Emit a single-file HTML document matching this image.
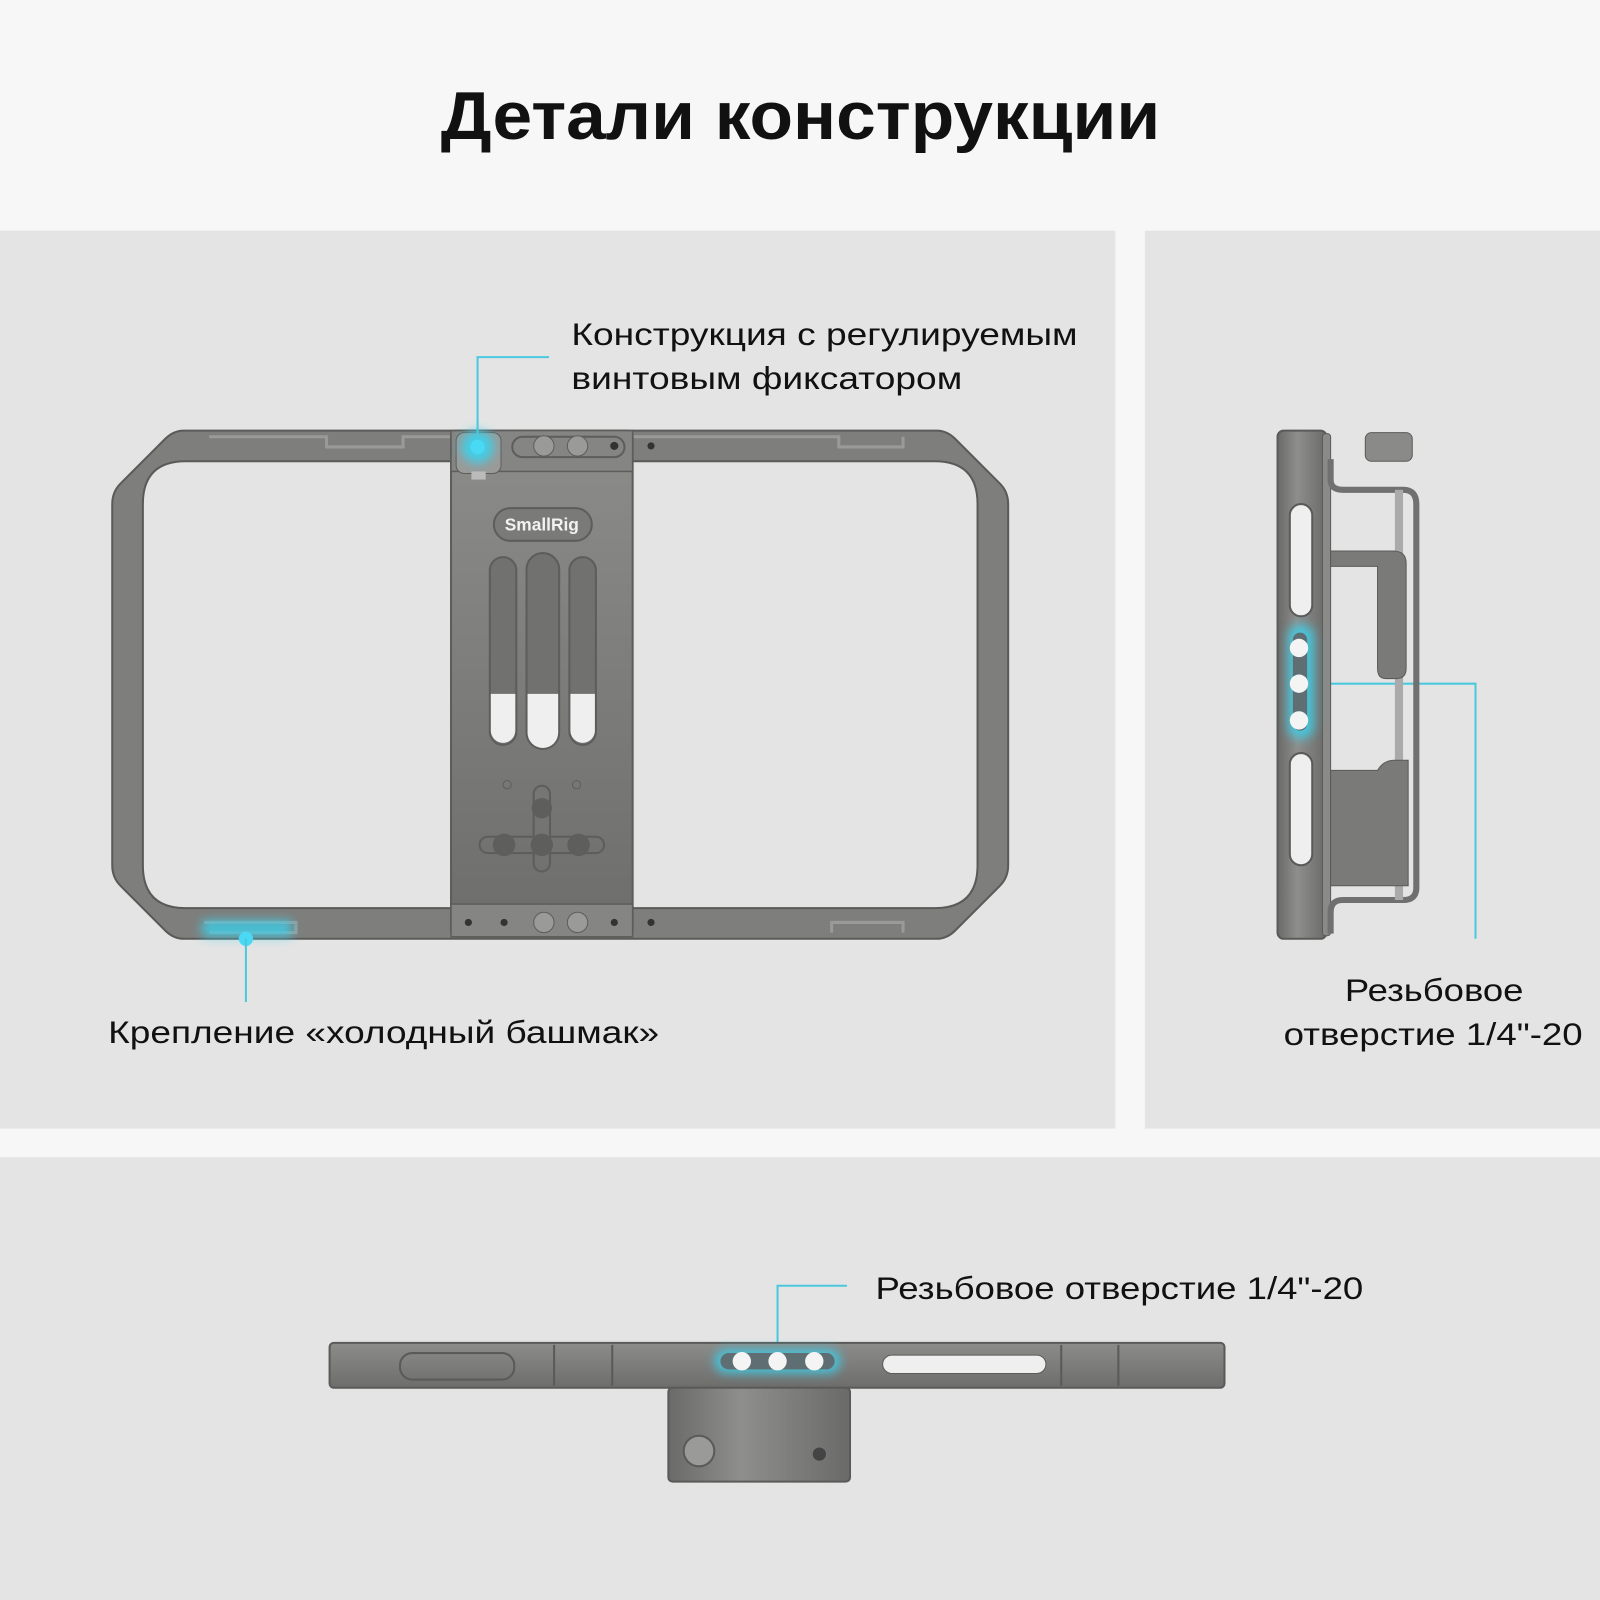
<!DOCTYPE html>
<html><head><meta charset="utf-8"><style>
html,body{margin:0;padding:0;background:#f7f7f7;}
svg{display:block;}
text{font-family:"Liberation Sans","DejaVu Sans",sans-serif;fill:#111;}
</style></head><body>
<svg width="1600" height="1600" viewBox="0 0 1568 1568" xmlns="http://www.w3.org/2000/svg">
<defs>
<linearGradient id="mg" x1="0" y1="0" x2="0" y2="1"><stop offset="0" stop-color="#8c8c8a"/><stop offset="1" stop-color="#6d6d6b"/></linearGradient>
<linearGradient id="mh" x1="0" y1="0" x2="1" y2="0"><stop offset="0" stop-color="#6a6a68"/><stop offset="0.4" stop-color="#8e8e8c"/><stop offset="1" stop-color="#6a6a68"/></linearGradient>
<filter id="gl" x="-1" y="-1" width="3" height="3"><feGaussianBlur stdDeviation="5"/></filter>
</defs>
<rect width="1568" height="1568" fill="#f7f7f7"/>
<rect x="0" y="226" width="1093" height="880" fill="#e4e4e4"/>
<rect x="1122" y="226" width="446" height="880" fill="#e4e4e4"/>
<rect x="0" y="1134" width="1568" height="434" fill="#e4e4e4"/>
<text x="432" y="136" font-size="66" font-weight="bold" textLength="705" lengthAdjust="spacingAndGlyphs">Детали конструкции</text>

<!-- main frame -->
<path fill-rule="evenodd" fill="#7e7e7c" stroke="#5a5a58" stroke-width="2"
 d="M180 422 H918 Q928 422 936 430 L980 474 Q988 482 988 494 V848 Q988 860 980 868 L936 912 Q928 920 918 920 H180 Q170 920 162 912 L118 868 Q110 860 110 848 V494 Q110 482 118 474 L162 430 Q170 422 180 422 Z
    M182 452 H916 Q958 452 958 494 V848 Q958 890 916 890 H182 Q140 890 140 848 V494 Q140 452 182 452 Z"/>
<path d="M205 428 H320 V438 H395 V428 H822 V438 H885 V428" fill="none" stroke="#9a9a98" stroke-width="3"/>
<path d="M205 914 H290 V904 H200" fill="none" stroke="#9a9a98" stroke-width="3"/>
<path d="M815 914 V904 H885 V914" fill="none" stroke="#9a9a98" stroke-width="3"/>
<!-- center plate -->
<rect x="442" y="422" width="178" height="496" rx="6" fill="url(#mg)" stroke="#5d5d5b" stroke-width="2"/>
<rect x="442" y="422" width="178" height="40" fill="#858583" stroke="#5d5d5b" stroke-width="1.5"/>
<rect x="442" y="886" width="178" height="32" fill="#858583" stroke="#5d5d5b" stroke-width="1.5"/>
<rect x="502" y="428" width="110" height="20" rx="10" fill="none" stroke="#5d5d5b" stroke-width="2"/>
<circle cx="533" cy="437" r="10" fill="#9a9a98" stroke="#5d5d5b"/><circle cx="566" cy="437" r="10" fill="#9a9a98" stroke="#5d5d5b"/>
<circle cx="602" cy="437" r="4" fill="#333"/><circle cx="638" cy="437" r="3.5" fill="#333"/>
<circle cx="533" cy="904" r="10" fill="#9a9a98" stroke="#5d5d5b"/><circle cx="566" cy="904" r="10" fill="#9a9a98" stroke="#5d5d5b"/>
<circle cx="459" cy="904" r="3.5" fill="#333"/><circle cx="494" cy="904" r="3.5" fill="#333"/><circle cx="602" cy="904" r="3.5" fill="#333"/><circle cx="638" cy="904" r="3.5" fill="#333"/>
<rect x="484" y="498" width="96" height="32" rx="16" fill="#7a7a78" stroke="#5d5d5b" stroke-width="2"/>
<text x="531" y="520" text-anchor="middle" font-size="17" font-weight="bold" style="fill:#f2f2f2">SmallRig</text>
<g stroke="#5d5d5b" stroke-width="2">
<rect x="480" y="546" width="26" height="184" rx="13" fill="#717170"/>
<rect x="516" y="542" width="32" height="192" rx="16" fill="#717170"/>
<rect x="558" y="546" width="26" height="184" rx="13" fill="#717170"/>
</g>
<path d="M481 680 H505 V716 A12 12 0 0 1 481 716 Z" fill="#efefef"/>
<path d="M517 680 H547 V718 A15 15 0 0 1 517 718 Z" fill="#efefef"/>
<path d="M559 680 H583 V716 A12 12 0 0 1 559 716 Z" fill="#efefef"/>
<circle cx="497" cy="769" r="4" fill="#777" stroke="#5d5d5b"/><circle cx="565" cy="769" r="4" fill="#777" stroke="#5d5d5b"/>
<rect x="470" y="820" width="122" height="16" rx="8" fill="none" stroke="#5d5d5b" stroke-width="2"/>
<rect x="523" y="770" width="16" height="84" rx="8" fill="none" stroke="#5d5d5b" stroke-width="2"/>
<g fill="#5e5e5c"><circle cx="531" cy="792" r="10"/><circle cx="494" cy="828" r="11"/><circle cx="531" cy="828" r="11"/><circle cx="567" cy="828" r="11"/></g>
<!-- knob -->
<rect x="447" y="424" width="44" height="40" rx="8" fill="#9a9a98" stroke="#5d5d5b"/>
<rect x="462" y="462" width="14" height="8" fill="#bbb"/>

<!-- glows left -->
<circle cx="468" cy="438" r="16" fill="#38d4f0" filter="url(#gl)" opacity="0.9"/>
<circle cx="468" cy="438" r="7" fill="#4ad9f4"/>
<rect x="198" y="902" width="88" height="16" fill="#38d4f0" filter="url(#gl)" opacity="0.8"/>
<circle cx="241" cy="920" r="7" fill="#4ad9f4"/>
<g stroke="#4cc8de" stroke-width="2" fill="none">
<path d="M538 350 H468 V430"/>
<path d="M241 920 V982"/>
<path d="M1278 670 H1446 V920"/>
<path d="M830 1260 H762 V1320"/>
</g>
<text x="560" y="338" font-size="31" textLength="496" lengthAdjust="spacingAndGlyphs">Конструкция с регулируемым</text>
<text x="560" y="381" font-size="31" textLength="383" lengthAdjust="spacingAndGlyphs">винтовым фиксатором</text>
<text x="106" y="1022" font-size="31" textLength="540" lengthAdjust="spacingAndGlyphs">Крепление «холодный башмак»</text>
<text x="1318" y="981" font-size="31" textLength="175" lengthAdjust="spacingAndGlyphs">Резьбовое</text>
<text x="1258" y="1024" font-size="31" textLength="293" lengthAdjust="spacingAndGlyphs">отверстие 1/4"-20</text>
<text x="858" y="1273" font-size="31" textLength="478" lengthAdjust="spacingAndGlyphs">Резьбовое отверстие 1/4"-20</text>

<!-- side view -->
<rect x="1252" y="422" width="48" height="498" rx="6" fill="url(#mh)" stroke="#5a5a58" stroke-width="2"/>
<rect x="1296" y="425" width="8" height="492" rx="3" fill="#8a8a88" stroke="#5a5a58"/>
<path d="M1304 450 V470 Q1304 480 1316 480 H1375 Q1388 480 1388 494 V870 Q1388 882 1375 882 H1316 Q1304 882 1304 894 V915" fill="none" stroke="#707070" stroke-width="6"/>
<rect x="1367" y="480" width="8" height="402" fill="#aaa"/>
<path d="M1304 540 H1365 Q1378 540 1378 552 V655 Q1378 665 1368 665 H1358 Q1350 665 1350 655 V555 H1304 Z" fill="#7a7a78" stroke="#5a5a58"/>
<path d="M1304 755 H1350 Q1356 745 1366 745 H1380 V868 H1304 Z" fill="#7a7a78" stroke="#5a5a58"/>
<rect x="1338" y="424" width="46" height="28" rx="6" fill="#8a8a88" stroke="#5a5a58"/>
<rect x="1264" y="494" width="22" height="110" rx="11" fill="#efefef" stroke="#5a5a58" stroke-width="2"/>
<rect x="1264" y="738" width="22" height="110" rx="11" fill="#efefef" stroke="#5a5a58" stroke-width="2"/>
<rect x="1262" y="612" width="26" height="112" rx="12" fill="#38d4f0" filter="url(#gl)" opacity="0.8"/>
<rect x="1267" y="620" width="14" height="96" rx="7" fill="#5e6e72"/>
<circle cx="1273" cy="635" r="9" fill="#f4f4f4"/><circle cx="1273" cy="670" r="9" fill="#f4f4f4"/><circle cx="1273" cy="706" r="9" fill="#f4f4f4"/>

<!-- bottom view -->
<rect x="323" y="1316" width="877" height="44" rx="4" fill="url(#mg)" stroke="#5a5a58" stroke-width="2"/>
<g stroke="#5a5a58" stroke-width="2"><line x1="543" y1="1318" x2="543" y2="1358"/><line x1="600" y1="1318" x2="600" y2="1358"/><line x1="1040" y1="1318" x2="1040" y2="1358"/><line x1="1096" y1="1318" x2="1096" y2="1358"/></g>
<rect x="392" y="1326" width="112" height="26" rx="12" fill="none" stroke="#5a5a58" stroke-width="2"/>
<rect x="865" y="1328" width="160" height="18" rx="9" fill="#efefef" stroke="#5a5a58"/>
<rect x="700" y="1322" width="124" height="24" rx="12" fill="#38d4f0" filter="url(#gl)" opacity="0.8"/>
<rect x="706" y="1326" width="112" height="16" rx="8" fill="#5e6e72"/>
<circle cx="727" cy="1334" r="9" fill="#f4f4f4"/><circle cx="762" cy="1334" r="9" fill="#f4f4f4"/><circle cx="798" cy="1334" r="9" fill="#f4f4f4"/>
<rect x="655" y="1360" width="178" height="92" rx="4" fill="url(#mh)" stroke="#5a5a58" stroke-width="2"/>
<circle cx="685" cy="1422" r="15" fill="#9a9a98" stroke="#5a5a58" stroke-width="2"/>
<circle cx="803" cy="1425" r="7" fill="#444" stroke="#777"/>
</svg>
</body></html>
